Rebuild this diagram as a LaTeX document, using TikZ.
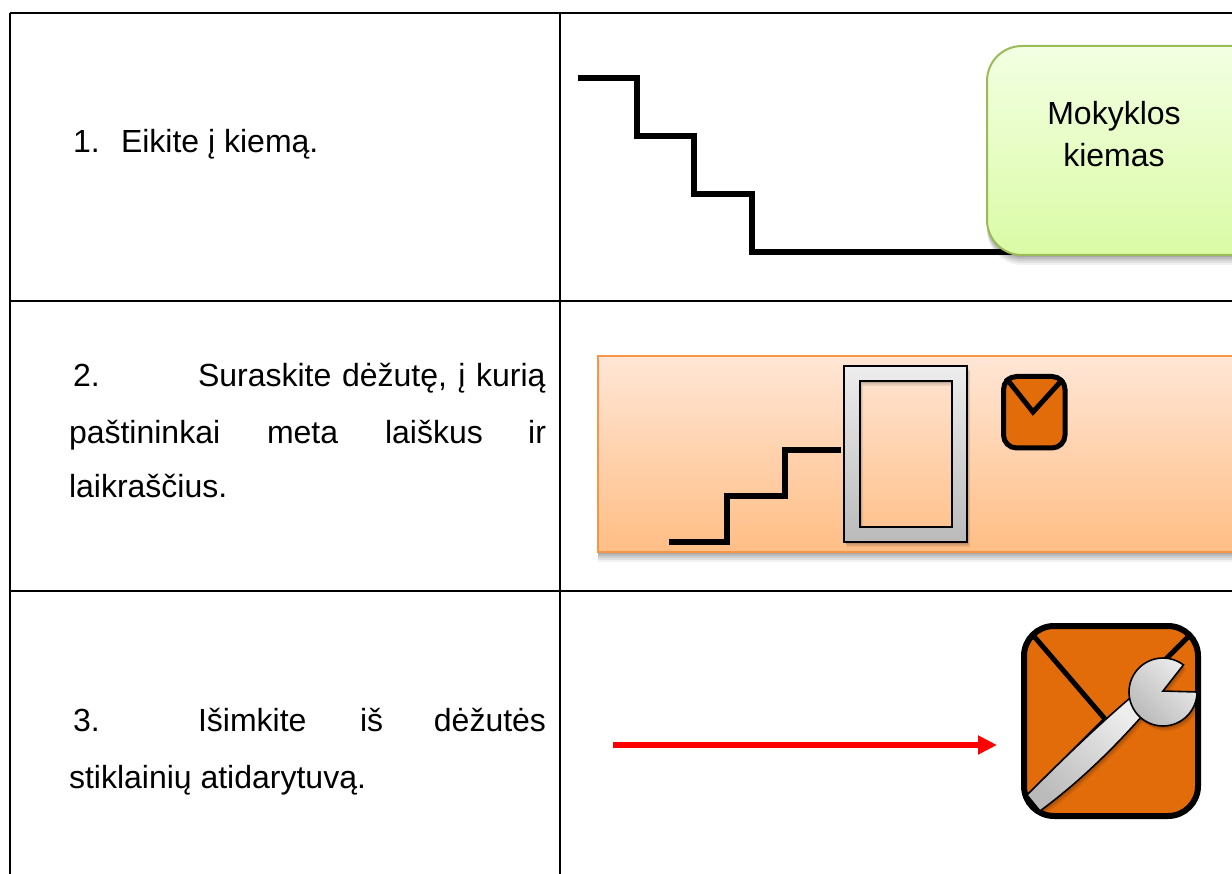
\documentclass[tikz,border=0pt]{standalone}
\usepackage{fontspec}
\setmainfont{Liberation Sans}
\usetikzlibrary{arrows.meta}
\definecolor{envorange}{HTML}{E36C0A}
\definecolor{greenline}{RGB}{155,187,89}
\definecolor{greentop}{RGB}{243,255,227}
\definecolor{greenbot}{RGB}{218,251,165}
\definecolor{panelline}{RGB}{247,150,70}
\definecolor{paneltop}{RGB}{255,230,214}
\definecolor{panelbot}{RGB}{255,190,133}
\tikzset{
  x=1pt,y=-1pt,
  txt/.style={anchor=base west,inner sep=0pt,outer sep=0pt,font=\fontsize{32}{38}\selectfont},
  grid/.style={draw=black,line width=2pt},
  stair/.style={draw=black,line width=5.5pt,line join=miter},
  softshadow/.style={
    preaction={fill=black,fill opacity=.05,draw=none,transform canvas={yshift=-10pt}},
    preaction={fill=black,fill opacity=.07,draw=none,transform canvas={yshift=-8pt}},
    preaction={fill=black,fill opacity=.08,draw=none,transform canvas={yshift=-6pt}},
    preaction={fill=black,fill opacity=.09,draw=none,transform canvas={yshift=-4pt}},
    preaction={fill=black,fill opacity=.10,draw=none,transform canvas={yshift=-2pt}}},
  smallshadow/.style={
    preaction={fill=black,fill opacity=.07,draw=none,even odd rule,transform canvas={xshift=3pt,yshift=-5pt}},
    preaction={fill=black,fill opacity=.09,draw=none,even odd rule,transform canvas={xshift=2pt,yshift=-3.5pt}},
    preaction={fill=black,fill opacity=.10,draw=none,even odd rule,transform canvas={xshift=1pt,yshift=-2pt}}},
  envelope/.style={draw=black,line width=6pt,fill=envorange},
  steel/.style={draw=black,line width=1.6pt,top color=black!7,bottom color=black!27},
  wrench/.style={steel,shading angle=-45}
}
\begin{document}
\begin{tikzpicture}
\useasboundingbox (0,0) rectangle (1232,874);
\fill[white] (0,0) rectangle (1232,874);
% table
\coordinate (tl) at (10,13); \coordinate (tm) at (560,13); \coordinate (tr) at (1232,13);
\coordinate (ml) at (10,301); \coordinate (mr) at (1232,301);
\coordinate (nl) at (10,591); \coordinate (nr) at (1232,591);
\coordinate (bl) at (10,874); \coordinate (bm) at (560,874);
\draw[grid] (tl) -- (tr);
\draw[grid] (ml) -- (mr);
\draw[grid] (nl) -- (nr);
\draw[grid] (tl) -- (bl);
\draw[grid] (tm) -- (bm);
% left texts
\node[txt] (n1) at (73,153) {1.};
\node[txt] (t1) at (121,153) {Eikite į kiemą.};
\node[txt] (n2) at (73,387) {2.};
\node[txt] (t2a) at (198,387) {\makebox[347.5pt][s]{Suraskite dėžutę, į kurią}};
\node[txt] (t2b) at (69,443) {paštininkai};
\node[txt] (t2c) at (267,443) {meta};
\node[txt] (t2d) at (385,443) {laiškus};
\node[txt,anchor=base east] (t2e) at (546,443) {ir};
\node[txt] (t2f) at (69,497) {laikraščius.};
\node[txt] (n3) at (73,731) {3.};
\node[txt] (t3a) at (198,731) {Išimkite};
\node[txt] (t3b) at (360,731) {iš};
\node[txt,anchor=base east] (t3c) at (546,731) {dėžutės};
\node[txt] (t3d) at (69,788) {stiklainių atidarytuvą.};
% row 1
\coordinate (s0) at (578,78);
\draw[stair] (s0) -- (637,78) -- (637,136) -- (694,136) -- (694,194) -- (752,194) -- (752,252) -- (1012,252);
\path[softshadow,rounded corners=35pt] (987,46) rectangle (1270,255);
\path[draw=greenline,line width=2pt,top color=greentop,bottom color=greenbot,rounded corners=35pt] (987,46) rectangle (1270,255);
\node[txt,anchor=base] (m1) at (1114,125) {Mokyklos};
\node[txt,anchor=base] (m2) at (1114,167) {kiemas};
% row 2
\path[softshadow] (598,356) rectangle (1260,552);
\path[draw=panelline,line width=1.6pt,top color=paneltop,bottom color=panelbot] (598,356) rectangle (1260,552);
\coordinate (s1) at (669,542);
\draw[stair] (s1) -- (727,542) -- (727,496) -- (785,496) -- (785,450) -- (841,450);
\path[smallshadow] (844,366) rectangle (967,542) (860,381) rectangle (952,527);
\path[steel,even odd rule] (844,366) rectangle (967,542) (860,381) rectangle (952,527);
\draw[envelope,line width=5pt,rounded corners=13pt] (1003.5,376.5) rectangle (1065,448);
\draw[black,line width=5pt] (1006,378) -- (1033,412) -- (1063,379);
% row 3
\coordinate (a0) at (613,745); \coordinate (a1) at (997,745);
\draw[red,line width=5.5pt,-{Triangle[length=19pt,width=18pt]}] (a0) -- (a1);
\draw[envelope,rounded corners=30pt] (1024,626) rectangle (1198,816);
\draw[black,line width=5pt] (1032,634) -- (1105,719);
\draw[black,line width=5pt] (1191,634) -- (1130,695);
\draw[black,line width=5pt] (1105,720) -- (1030,795);
\path[smallshadow,wrench] (1027,795) .. controls (1060,762) and (1095,728) .. (1130,698) -- (1143,715) .. controls (1112,750) and (1078,783) .. (1040,811) -- cycle;
\path[smallshadow,wrench] (1163,691) -- (1197,692) arc[start angle=0,end angle=307,radius=34] -- cycle;
\end{tikzpicture}
\end{document}
